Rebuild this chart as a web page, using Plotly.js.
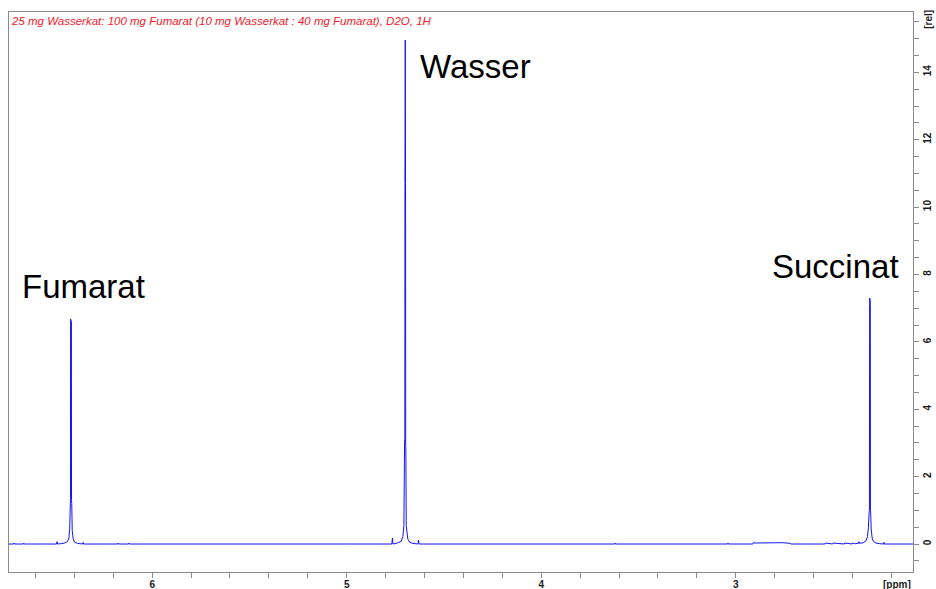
<!DOCTYPE html>
<html>
<head>
<meta charset="utf-8">
<script src="https://cdn.plot.ly/plotly-3.0.1.min.js"></script>
<style>
  html, body { margin: 0; padding: 0; background: #fff; }
  #nmr { width: 936px; height: 589px; }
</style>
</head>
<body>
<div id="nmr"></div>
<script>
// 1H NMR spectrum in D2O: chemical shift [ppm] and relative intensity [rel]

// baseline left of the fumarate signal
const baseLeftPpm = [6.736, 6.712, 6.710, 6.708, 6.662, 6.660, 6.658, 6.560];
const baseLeftInt = [0, 0, 0.03, 0, 0, 0.03, 0, 0];

// fumarate singlet
const fumaratPpm = [6.492, 6.489, 6.486, 6.470, 6.450, 6.435, 6.428, 6.424, 6.4215, 6.4200, 6.4195, 6.4152, 6.4146, 6.4135, 6.411, 6.406, 6.400, 6.385, 6.358, 6.355, 6.352];
const fumaratInt = [0, 0.07, 0, 0.01, 0.03, 0.08, 0.18, 0.45, 1.30, 1.35, 6.68, 6.60, 1.30, 1.20, 0.40, 0.15, 0.06, 0.02, 0, 0.05, 0];

// baseline between fumarate and water
const baseMidPpm = [6.300, 6.177, 6.175, 6.173, 6.122, 6.120, 6.118, 5.000];
const baseMidInt = [0, 0, 0.03, 0, 0, 0.03, 0, 0];

// residual water (HDO)
const wasserPpm = [4.790, 4.768, 4.765, 4.762, 4.740, 4.720, 4.711, 4.706, 4.7025, 4.7012, 4.7006, 4.6990, 4.6975, 4.6968, 4.6960, 4.694, 4.690, 4.686, 4.676, 4.660, 4.634, 4.631, 4.628, 4.600];
const wasserInt = [0, 0, 0.18, 0, 0.03, 0.08, 0.22, 0.55, 3.10, 3.10, 10.75, 14.96, 10.70, 2.90, 2.85, 0.55, 0.30, 0.15, 0.05, 0.02, 0, 0.12, 0, 0];

// baseline between water and succinate
const baseRightPpm = [3.622, 3.620, 3.618, 3.042, 3.040, 3.038, 2.912, 2.910, 2.900, 2.760, 2.720, 2.718, 2.542, 2.540, 2.502, 2.500, 2.442, 2.440, 2.402, 2.400, 2.390];
const baseRightInt = [0, 0.03, 0, 0, 0.03, 0, 0, 0.04, 0.03, 0.04, 0.02, 0, 0, 0.03, 0, 0.03, 0, 0.03, 0, 0.03, 0.01];

// succinate singlet
const succinatPpm = [2.370, 2.367, 2.364, 2.345, 2.330, 2.323, 2.318, 2.3145, 2.3130, 2.3120, 2.3115, 2.3085, 2.3078, 2.3065, 2.304, 2.299, 2.293, 2.280, 2.260, 2.240, 2.238, 2.236, 2.180, 2.089];
const succinatInt = [0.02, 0.07, 0.02, 0.04, 0.10, 0.22, 0.50, 0.95, 1.00, 7.10, 7.30, 7.20, 1.00, 0.92, 0.45, 0.18, 0.08, 0.03, 0.01, 0, 0.05, 0, 0, 0];

// axis tick positions and labels
const xTickVals = [3, 4, 5, 6];
const xTickText = ['3', '4', '5', '6'];
const yTickVals = [0, 2, 4, 6, 8, 10, 12, 14];
const yTickText = ['0', '2', '4', '6', '8', '10', '12', '14'];

const sampleNote = '25 mg Wasserkat: 100 mg Fumarat (10 mg Wasserkat : 40 mg Fumarat), D2O, 1H';
const peakLabels = ['Fumarat', 'Wasser', 'Succinat'];
const peakLabelPpm = [6.677, 4.636, 2.823];
const peakLabelInt = [7.63, 14.17, 8.25];

const ppm = [].concat(baseLeftPpm, fumaratPpm, baseMidPpm, wasserPpm, baseRightPpm, succinatPpm);
const intensity = [].concat(baseLeftInt, fumaratInt, baseMidInt, wasserInt, baseRightInt, succinatInt);

const frameColor = '#8a8a8a';
const tickFont = { family: 'Liberation Sans, Arial, sans-serif', size: 10, color: '#1a1a1a', weight: 'bold' };

const trace = {
  x: ppm,
  y: intensity,
  type: 'scatter',
  mode: 'lines',
  line: { color: '#1414f0', width: 1, shape: 'linear' },
  hoverinfo: 'x+y'
};

const annotations = peakLabels.map((t, i) => ({
  text: t,
  x: peakLabelPpm[i],
  y: peakLabelInt[i],
  xref: 'x', yref: 'y',
  xanchor: 'left', yanchor: 'middle',
  showarrow: false,
  font: { family: 'Liberation Sans, Arial, sans-serif', size: 33, color: '#000' }
}));

annotations.push({
  text: sampleNote,
  xref: 'paper', yref: 'paper',
  x: 0, y: 0.984,
  xanchor: 'left', yanchor: 'middle',
  showarrow: false,
  font: { family: 'Liberation Sans, Arial, sans-serif', size: 11.5, color: '#f0202a', style: 'italic' }
});
annotations.push({
  text: '[rel]',
  xref: 'paper', yref: 'paper',
  x: 1.0177, y: 0.986,
  xanchor: 'center', yanchor: 'middle',
  textangle: -90,
  showarrow: false,
  font: tickFont
});
annotations.push({
  text: '[ppm]',
  xref: 'paper', yref: 'paper',
  x: 0.982, y: -0.022,
  xanchor: 'center', yanchor: 'middle',
  showarrow: false,
  font: tickFont
});

const layout = {
  width: 936,
  height: 589,
  margin: { l: 9, r: 23, t: 12, b: 17, pad: 0 },
  paper_bgcolor: '#fff',
  plot_bgcolor: '#fff',
  showlegend: false,
  xaxis: {
    range: [6.736, 2.089],
    tickmode: 'array',
    tickvals: xTickVals,
    ticktext: xTickText,
    ticks: 'outside',
    ticklen: 5,
    tickwidth: 1,
    tickcolor: frameColor,
    ticklabelstandoff: -2,
    minor: { dtick: 0.2, tick0: 0, ticks: 'outside', ticklen: 5, tickwidth: 1, tickcolor: frameColor, showgrid: false },
    showline: true,
    linecolor: frameColor,
    linewidth: 1,
    mirror: true,
    showgrid: false,
    zeroline: false,
    tickfont: tickFont,
    automargin: false
  },
  yaxis: {
    side: 'right',
    range: [-0.83, 15.79],
    tickmode: 'array',
    tickvals: yTickVals,
    ticktext: yTickText,
    ticks: 'outside',
    ticklen: 5,
    tickwidth: 1,
    tickcolor: frameColor,
    tickangle: -90,
    minor: { dtick: 0.5, tick0: 0, ticks: 'outside', ticklen: 5, tickwidth: 1, tickcolor: frameColor, showgrid: false },
    showline: true,
    linecolor: frameColor,
    linewidth: 1,
    mirror: true,
    showgrid: false,
    zeroline: false,
    tickfont: tickFont,
    automargin: false
  },
  annotations: annotations
};

Plotly.newPlot('nmr', [trace], layout, { displayModeBar: false, staticPlot: true });
</script>
</body>
</html>
